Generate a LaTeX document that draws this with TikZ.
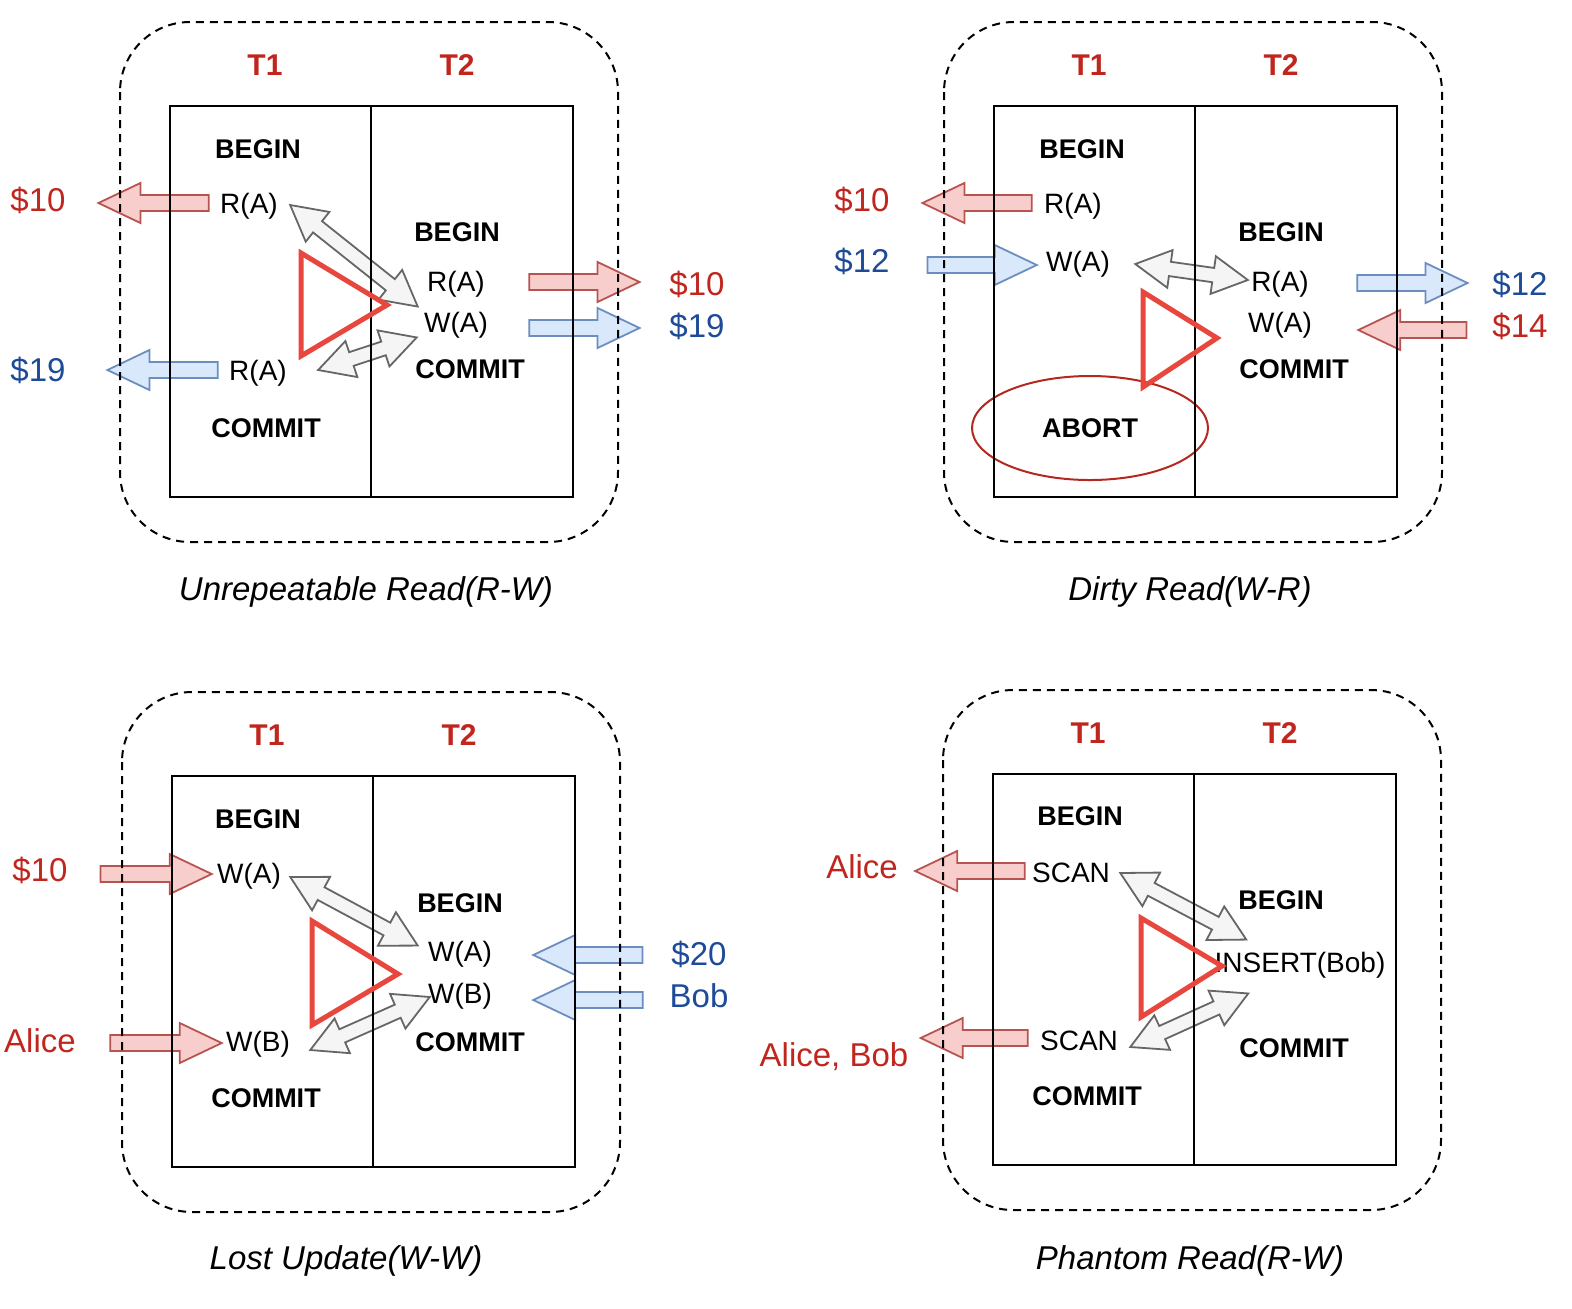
\documentclass[tikz,border=0pt]{standalone}
\usepackage{fontspec}
\setmainfont{Liberation Sans}
\usetikzlibrary{calc,shapes.geometric}
\definecolor{txred}{HTML}{C0261E}
\definecolor{txblue}{HTML}{1E4B98}
\definecolor{redfill}{HTML}{F8CECC}
\definecolor{redline}{HTML}{B85450}
\definecolor{bluefill}{HTML}{DAE8FC}
\definecolor{blueline}{HTML}{6C8EBF}
\definecolor{grayfill}{HTML}{F5F5F5}
\definecolor{grayline}{HTML}{666666}
\definecolor{trired}{HTML}{E8473D}
\definecolor{ellred}{HTML}{B5281F}

% block arrow: style, tail, tip
\newcommand{\blockarrow}[3]{%
  \draw[#1] let \p1=(#2), \p2=(#3), \n1={atan2(\y2-\y1,\x2-\x1)} in
    ($(\p1)+({\n1+90}:4pt)$) -- ($(\p2)+({\n1+180}:21pt)+({\n1+90}:4pt)$)
    -- ($(\p2)+({\n1+180}:21pt)+({\n1+90}:10pt)$) -- (\p2)
    -- ($(\p2)+({\n1+180}:21pt)+({\n1-90}:10pt)$) -- ($(\p2)+({\n1+180}:21pt)+({\n1-90}:4pt)$)
    -- ($(\p1)+({\n1-90}:4pt)$) -- cycle;}
% two-headed block arrow
\newcommand{\dblarrow}[3]{%
  \draw[#1] let \p1=(#2), \p2=(#3), \n1={atan2(\y2-\y1,\x2-\x1)} in
    (\p1) -- ($(\p1)+(\n1:17.5pt)+({\n1+90}:9.5pt)$) -- ($(\p1)+(\n1:17.5pt)+({\n1+90}:3.6pt)$)
    -- ($(\p2)+({\n1+180}:17.5pt)+({\n1+90}:3.6pt)$) -- ($(\p2)+({\n1+180}:17.5pt)+({\n1+90}:9.5pt)$)
    -- (\p2) -- ($(\p2)+({\n1+180}:17.5pt)+({\n1-90}:9.5pt)$) -- ($(\p2)+({\n1+180}:17.5pt)+({\n1-90}:3.6pt)$)
    -- ($(\p1)+(\n1:17.5pt)+({\n1-90}:3.6pt)$) -- ($(\p1)+(\n1:17.5pt)+({\n1-90}:9.5pt)$) -- cycle;}

\tikzset{
  op/.style={font=\fontsize{14}{16}\selectfont, inner sep=0pt},
  kw/.style={font=\fontsize{13.5}{16}\selectfont\bfseries, inner sep=0pt},
  tx/.style={font=\fontsize{15}{18}\selectfont\bfseries, text=txred, inner sep=0pt},
  val/.style={font=\fontsize{16.5}{19}\selectfont, inner sep=0pt},
  capt/.style={font=\fontsize{16.5}{19}\selectfont\itshape, inner sep=0pt},
  redarr/.style={fill=redfill, draw=redline, line width=0.9pt},
  bluearr/.style={fill=bluefill, draw=blueline, line width=0.9pt},
  grayarr/.style={fill=grayfill, draw=grayline, line width=0.9pt},
  txframe/.style={dash pattern=on 4pt off 3pt, line width=1pt, rounded corners=35pt},
  txbox/.style={line width=1.2pt},
  warn/.style={draw=trired, line width=2.5pt},
  abort/.style={ellipse, draw=ellred, line width=1pt, minimum width=118pt, minimum height=52pt},
}

\begin{document}
\begin{tikzpicture}[x=0.5pt, y=-0.5pt]
  \useasboundingbox (0,0) rectangle (1572,1308);

  % Unrepeatable read
  \node[kw] (ba1) at (258,149) {BEGIN};
  \node[op] (ra1) at (249,206) {R(A)};
  \node[op] (ra2) at (258,373) {R(A)};
  \node[kw] (ca1) at (266,428) {COMMIT};
  \node[kw] (ba2) at (457,232) {BEGIN};
  \node[op] (ra3) at (456,284) {R(A)};
  \node[op] (wa1) at (456,325) {W(A)};
  \node[kw] (ca2) at (470,369) {COMMIT};
  \node[val, text=txred] (va1) at (38,200) {\$10};
  \node[val, text=txblue] (va2) at (38,370) {\$19};
  \node[val, text=txred] (va3) at (697,284) {\$10};
  \node[val, text=txblue] (va4) at (697,326) {\$19};
  \node[capt] (capa) at (366,592) {Unrepeatable Read(R-W)};
  \blockarrow{redarr}{[shift={(-11,-3)}]ra1.west}{[shift={(32.5,3)}]va1.east}
  \blockarrow{bluearr}{[shift={(-11,-3)}]ra2.west}{[shift={(41.5,0)}]va2.east}
  \blockarrow{redarr}{[shift={(44,-2)}]ra3.east}{[shift={(-29.5,-2)}]va3.west}
  \blockarrow{bluearr}{[shift={(41,3)}]wa1.east}{[shift={(-29.5,2)}]va4.west}
  \dblarrow{grayarr}{[shift={(12,-1)}]ra1.east}{[shift={(-6,-5)}]wa1.north west}
  \dblarrow{grayarr}{[shift={(31,-3)}]ra2.east}{[shift={(-7,-1)}]wa1.south west}

  % Dirty read
  \node[kw] (bb1) at (1082,149) {BEGIN};
  \node[op] (rb1) at (1073,206) {R(A)};
  \node[op] (wb1) at (1078,264) {W(A)};
  \node[kw, abort] (ab) at (1090,428) {ABORT};
  \node[kw] (bb2) at (1281,232) {BEGIN};
  \node[op] (rb2) at (1280,284) {R(A)};
  \node[op] (wb2) at (1280,325) {W(A)};
  \node[kw] (cb2) at (1294,369) {COMMIT};
  \node[val, text=txred] (vb1) at (862,200) {\$10};
  \node[val, text=txblue] (vb2) at (862,261) {\$12};
  \node[val, text=txblue] (vb3) at (1520,284) {\$12};
  \node[val, text=txred] (vb4) at (1520,326) {\$14};
  \node[capt] (capb) at (1190,592) {Dirty Read(W-R)};
  \blockarrow{redarr}{[shift={(-12,-3)}]rb1.west}{[shift={(32.5,3)}]vb1.east}
  \blockarrow{bluearr}{[shift={(37.5,4)}]vb2.east}{[shift={(-9,1)}]wb1.west}
  \blockarrow{bluearr}{[shift={(48,-1)}]rb2.east}{[shift={(-24.5,-1)}]vb3.west}
  \blockarrow{redarr}{[shift={(-25.5,4)}]vb4.west}{[shift={(46,5)}]wb2.east}
  \dblarrow{grayarr}{[shift={(25,0)}]wb1.east}{[shift={(-3,-4)}]rb2.west}

  % Lost update
  \node[kw] (bc1) at (258,819) {BEGIN};
  \node[op] (wc1) at (249,876) {W(A)};
  \node[op] (wc2) at (258,1044) {W(B)};
  \node[kw] (cc1) at (266,1098) {COMMIT};
  \node[kw] (bc2) at (460,903) {BEGIN};
  \node[op] (wc3) at (460,954) {W(A)};
  \node[op] (wc4) at (460,996) {W(B)};
  \node[kw] (cc2) at (470,1042) {COMMIT};
  \node[val, text=txred] (vc1) at (40,870) {\$10};
  \node[val, text=txred] (vc2) at (40,1041) {Alice};
  \node[val, text=txblue] (vc3) at (699,954) {\$20};
  \node[val, text=txblue] (vc4) at (699,996) {Bob};
  \node[capt] (capc) at (346,1261) {Lost Update(W-W)};
  \blockarrow{redarr}{[shift={(32.5,4)}]vc1.east}{[shift={(-5,-2)}]wc1.west}
  \blockarrow{redarr}{[shift={(34,2)}]vc2.east}{[shift={(-4,-1)}]wc2.west}
  \blockarrow{bluearr}{[shift={(-28.5,1)}]vc3.west}{[shift={(41,1)}]wc3.east}
  \blockarrow{bluearr}{[shift={(-26.5,4)}]vc4.west}{[shift={(41,4)}]wc4.east}
  \dblarrow{grayarr}{[shift={(9,1)}]wc1.east}{[shift={(-10,5)}]wc3.north west}
  \dblarrow{grayarr}{[shift={(20,6)}]wc2.east}{[shift={(2,1)}]wc4.west}

  % Phantom read
  \node[kw] (bd1) at (1080,816) {BEGIN};
  \node[op] (sd1) at (1071,873) {SCAN};
  \node[op] (sd2) at (1079,1041) {SCAN};
  \node[kw] (cd1) at (1087,1096) {COMMIT};
  \node[kw] (bd2) at (1281,900) {BEGIN};
  \node[op] (id2) at (1300,965) {INSERT(Bob)};
  \node[kw] (cd2) at (1294,1048) {COMMIT};
  \node[val, text=txred] (vd1) at (862,867) {Alice};
  \node[val, text=txred] (vd2) at (834,1057) {Alice, Bob};
  \node[capt] (capd) at (1190,1261) {Phantom Read(R-W)};
  \blockarrow{redarr}{[shift={(-7,-2)}]sd1.west}{[shift={(17,4)}]vd1.east}
  \blockarrow{redarr}{[shift={(-12,-3)}]sd2.west}{[shift={(12,-19)}]vd2.east}
  \dblarrow{grayarr}{[shift={(10,0)}]sd1.east}{[shift={(32,-12)}]id2.north west}
  \dblarrow{grayarr}{[shift={(12,6)}]sd2.east}{[shift={(34,15)}]id2.south west}

  % frames, boxes and transaction heads
  \foreach \dx/\dy/\i in {0/0/a, 824/0/b, 2/670/c, 823/668/d} {
    \draw[txframe] (120+\dx,22+\dy) rectangle (618+\dx,542+\dy);
    \draw[txbox] (170+\dx,106+\dy) rectangle (573+\dx,497+\dy)
      (371+\dx,106+\dy) -- (371+\dx,497+\dy);
    \node[tx] (t1\i) at (265+\dx,65+\dy) {T1};
    \node[tx] (t2\i) at (457+\dx,65+\dy) {T2};
  }

  % conflict markers
  \draw[warn] (301,253) -- (301,356) -- (387,305) -- cycle;
  \draw[warn] (1143,292) -- (1143,387) -- (1217,338) -- cycle;
  \draw[warn] (312,921) -- (312,1025) -- (398,974) -- cycle;
  \draw[warn] (1141,918) -- (1141,1017) -- (1222,966) -- cycle;
\end{tikzpicture}
\end{document}
